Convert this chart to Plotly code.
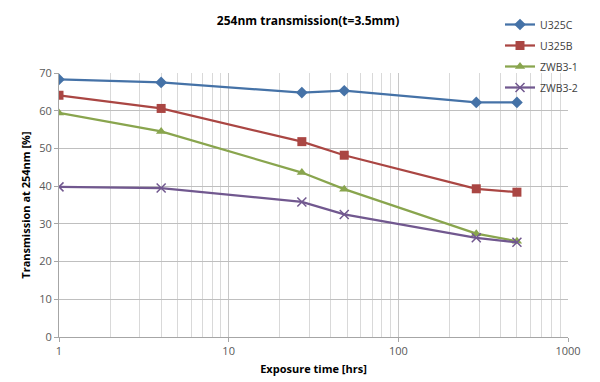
import plotly.graph_objects as go

hours = [1, 4, 27, 48, 288, 500]
u325c = [68.3, 67.5, 64.8, 65.3, 62.2, 62.2]
u325b = [64.1, 60.6, 51.8, 48.2, 39.3, 38.4]
zwb3_1 = [59.4, 54.5, 43.6, 39.2, 27.4, 25.4]
zwb3_2 = [39.8, 39.5, 35.8, 32.5, 26.3, 25.1]

series_names = ["U325C", "U325B", "ZWB3-1", "ZWB3-2"]
series_values = [u325c, u325b, zwb3_1, zwb3_2]
colors = ["#4572A7", "#AA4643", "#89A54E", "#71588F"]
symbols = ["diamond", "square", "triangle-up", "x-thin-open"]
sizes = [9, 9, 9, 9]

x_tickvals = [1, 10, 100, 1000]
x_ticktext = ["1", "10", "100", "1000"]
y_tickvals = [0, 10, 20, 30, 40, 50, 60, 70]

fig = go.Figure()
for name, vals, c, s, sz in zip(series_names, series_values, colors, symbols, sizes):
    fig.add_trace(go.Scatter(
        x=hours, y=vals, name=name, mode="lines+markers",
        line=dict(color=c, width=2.25),
        marker=dict(symbol=s, size=sz, color=c,
                    line=dict(color=c, width=1.5 if s == "x-thin-open" else 0)),
        legendgroup=name,
    ))

font = "Open Sans, Arial, sans-serif"
fig.update_layout(
    width=600, height=382,
    margin=dict(l=59, r=32, t=73, b=45, autoexpand=False),
    paper_bgcolor="white", plot_bgcolor="white",
    font=dict(family=font, size=11, color="#595959"),
    title=dict(text="<b>254nm transmission(t=3.5mm)</b>", x=308/600, xanchor="center",
               y=1 - 21/382, yanchor="middle",
               font=dict(family=font, size=12, color="#000000")),
    legend=dict(x=(500-59)/509, y=(337-10)/264, xanchor="left", yanchor="top",
                bgcolor="rgba(0,0,0,0)", font=dict(family=font, size=10.5, color="#404040"),
                tracegroupgap=2, itemwidth=30),
    showlegend=True,
    shapes=[dict(type="rect", xref="paper", yref="paper",
                 x0=(490-59)/509, x1=(600-59)/509, y0=(337-97)/264, y1=(337-0)/264,
                 fillcolor="white", line=dict(width=0), layer="between")],
)
fig.update_xaxes(
    type="log", range=[0, 3], automargin=False,
    tickvals=x_tickvals, ticktext=x_ticktext,
    showgrid=True, gridcolor="#c8c8c8", gridwidth=1,
    minor=dict(dtick="D1", showgrid=True, gridcolor="#d9d9d9", gridwidth=1, ticks=""),
    showline=True, linecolor="#a6a6a6", linewidth=1,
    ticks="outside", ticklen=4, tickcolor="#a6a6a6",
    title=dict(text="<b>Exposure time [hrs]</b>", standoff=8,
               font=dict(family=font, size=11, color="#000000")),
    zeroline=False,
)
fig.update_yaxes(
    range=[0, 70], tickvals=y_tickvals, automargin=False,
    showgrid=True, gridcolor="#bfbfbf", gridwidth=1,
    showline=True, linecolor="#a6a6a6", linewidth=1,
    ticks="outside", ticklen=4, tickcolor="#a6a6a6",
    title=dict(text="<b>Transmission at 254nm [%]</b>", standoff=6,
               font=dict(family=font, size=11, color="#000000")),
    zeroline=False,
)

fig.write_html("out.html", config={"displayModeBar": False},
               post_script="document.body.style.margin='0';")
